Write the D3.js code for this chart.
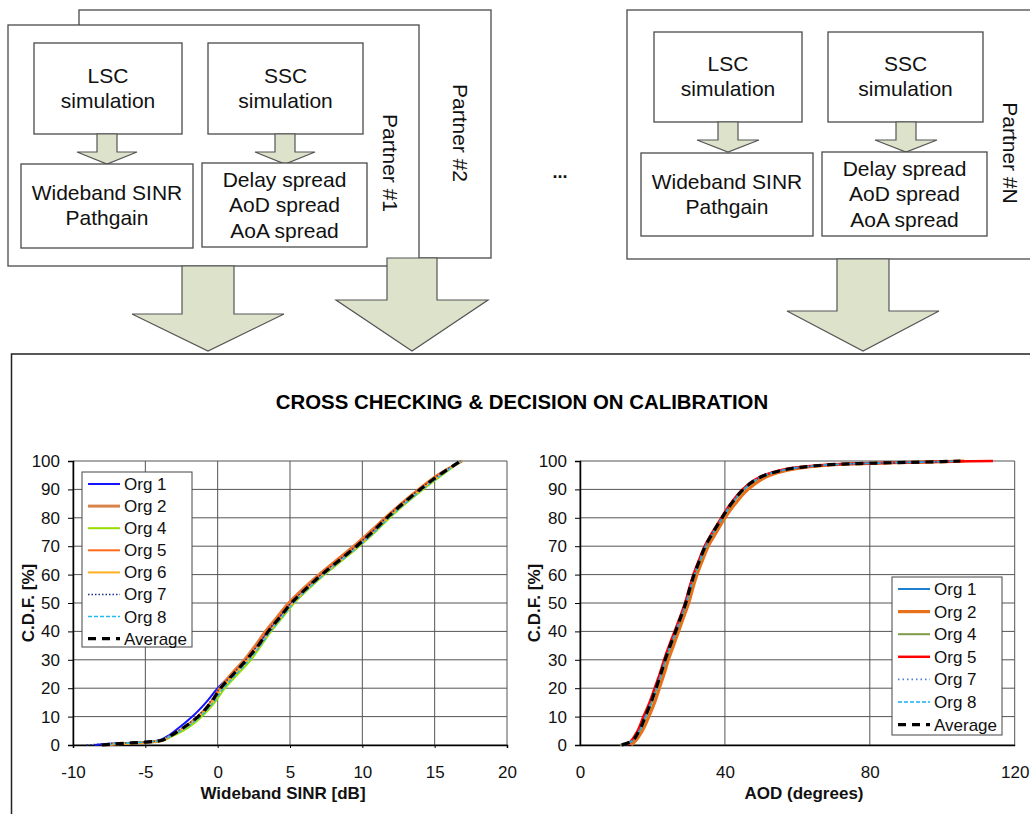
<!DOCTYPE html>
<html>
<head>
<meta charset="utf-8">
<script src="https://cdn.jsdelivr.net/npm/d3@7"></script>
<style>
  html, body { margin: 0; padding: 0; background: #fff; }
  svg { display: block; font-family: "Liberation Sans", Arial, sans-serif; }
</style>
</head>
<body>
<svg id="chart" width="1030" height="814"></svg>
<script>
// ---------------- DATA ----------------
const title = "CROSS CHECKING & DECISION ON CALIBRATION";

// Left chart: Wideband SINR CDF (CDF levels in %, SINR in dB per organisation)
const sinrLevels = [0, 0.5, 1, 1.5, 3, 5, 10, 15, 20, 25, 30, 35, 40, 45, 50, 55, 60, 65, 70, 75, 80, 85, 90, 95, 100];
const sinrOrg1 = [-8.5, -7.2, -5.3, -4.2, -3.5, -2.95, -1.75, -0.8, 0.0, 1.0, 1.9, 2.7, 3.5, 4.3, 5.1, 6.1, 7.2, 8.4, 9.6, 10.7, 11.8, 12.9, 14.0, 15.3, 16.8];
const sinrOrg2 = [-7.8, -6.5, -4.8, -3.9, -3.3, -2.6, -1.3, -0.45, 0.15, 0.95, 1.85, 2.6, 3.3, 4.1, 4.9, 5.9, 7.0, 8.2, 9.4, 10.5, 11.6, 12.7, 13.9, 15.2, 16.9];
const sinrOrg4 = [-8.0, -6.7, -4.9, -3.9, -3.2, -2.4, -1.1, -0.2, 0.5, 1.4, 2.3, 3.0, 3.7, 4.5, 5.3, 6.3, 7.4, 8.6, 9.8, 10.9, 11.9, 13.0, 14.2, 15.5, 16.8];
const sinrOrg5 = [-7.9, -6.6, -5.0, -4.0, -3.3, -2.65, -1.4, -0.5, 0.15, 1.0, 1.9, 2.65, 3.35, 4.15, 4.95, 5.95, 7.05, 8.2, 9.45, 10.55, 11.55, 12.7, 13.9, 15.2, 16.8];
const sinrOrg6 = [-7.9, -6.7, -5.0, -4.0, -3.3, -2.6, -1.3, -0.4, 0.3, 1.2, 2.1, 2.9, 3.6, 4.4, 5.2, 6.2, 7.3, 8.5, 9.7, 10.8, 11.8, 12.9, 14.1, 15.4, 16.8];
const sinrOrg7 = [-9.05, -7.5, -5.2, -4.1, -3.4, -2.75, -1.4, -0.55, 0.15, 1.05, 1.95, 2.75, 3.45, 4.25, 5.05, 6.05, 7.15, 8.35, 9.55, 10.65, 11.65, 12.75, 13.95, 15.25, 16.8];
const sinrOrg8 = [-8.0, -6.8, -5.0, -4.0, -3.3, -2.55, -1.2, -0.3, 0.4, 1.3, 2.2, 2.95, 3.65, 4.45, 5.25, 6.25, 7.35, 8.55, 9.75, 10.85, 11.85, 12.95, 14.15, 15.45, 16.8];
const sinrAvg  = [-8.0, -6.8, -5.0, -4.0, -3.35, -2.7, -1.35, -0.45, 0.2, 1.1, 2.0, 2.8, 3.5, 4.3, 5.1, 6.1, 7.2, 8.4, 9.6, 10.7, 11.7, 12.8, 14.0, 15.3, 16.8];
const sinrTicksX = [-10, -5, 0, 5, 10, 15, 20];

// Right chart: AOD CDF (CDF levels in %, AOD in degrees per organisation)
const aodLevels = [0, 1.3, 5, 10, 15, 20, 25, 30, 35, 40, 45, 50, 55, 60, 65, 70, 75, 80, 85, 90, 93, 95, 96.5, 97.5, 98.2, 98.7, 99.1, 99.5, 99.8, 100];
const aodOrg1 = [12.5, 14.2, 16.2, 17.9, 19.5, 20.9, 22.2, 23.4, 24.8, 26.3, 27.7, 29.1, 30.2, 31.4, 32.9, 34.5, 36.7, 39.1, 41.7, 45.0, 47.9, 50.9, 54.8, 58.8, 63.8, 68.8, 76.8, 89, 100, 104];
const aodOrg2 = [14.1, 15.2, 17.2, 19.0, 20.6, 21.9, 23.2, 24.4, 25.8, 27.2, 28.6, 30.0, 31.1, 32.3, 33.8, 35.4, 37.7, 40.0, 42.9, 46.4, 49.5, 52.5, 56.5, 60.5, 65, 70, 78, 91, 101, 106];
const aodOrg4 = [11.0, 14.3, 16.5, 18.2, 19.8, 21.2, 22.5, 23.7, 25.1, 26.6, 28.0, 29.4, 30.5, 31.7, 33.2, 34.8, 37.0, 39.4, 42.0, 45.3, 48.2, 51.2, 55.2, 59.2, 64.2, 69.2, 77.2, 90, 100, 103];
const aodOrg5 = [13.0, 14.0, 15.9, 17.5, 19.2, 20.6, 22.0, 23.2, 24.6, 26.1, 27.6, 29.0, 30.1, 31.3, 32.8, 34.4, 36.6, 39.0, 41.6, 44.9, 47.8, 50.8, 54.5, 58.5, 63.5, 68.5, 76.5, 90, 102, 114];
const aodOrg7 = [11.8, 14.1, 16.3, 18.0, 19.6, 21.0, 22.3, 23.5, 24.9, 26.4, 27.8, 29.2, 30.3, 31.5, 33.0, 34.6, 36.8, 39.2, 41.8, 45.1, 48.0, 51.0, 55.0, 59.0, 64.0, 69.0, 77.0, 90.0, 100, 104];
const aodOrg8 = [12.0, 14.2, 16.4, 18.1, 19.7, 21.1, 22.4, 23.6, 25.0, 26.5, 27.9, 29.3, 30.4, 31.6, 33.1, 34.7, 36.9, 39.3, 41.9, 45.2, 48.1, 51.1, 55.1, 59.1, 64.1, 69.1, 77.1, 90.0, 101, 105];
const aodAvg  = [11.5, 14.1, 16.3, 18.0, 19.6, 21.0, 22.3, 23.5, 24.9, 26.4, 27.8, 29.2, 30.3, 31.5, 33.0, 34.6, 36.8, 39.2, 41.8, 45.1, 48.0, 51.0, 55.0, 59.0, 64.0, 69.0, 77.0, 90.0, 100, 105];
const aodTicksX = [0, 40, 80, 120];

const cdfTicksY = [0, 10, 20, 30, 40, 50, 60, 70, 80, 90, 100];

// ---------------- STYLES ----------------
const leftSeries = [
  {name: "Org 1", x: sinrOrg1, color: "#1414ff", width: 2, dash: null},
  {name: "Org 2", x: sinrOrg2, color: "#d9834a", width: 3, dash: null},
  {name: "Org 4", x: sinrOrg4, color: "#99dd00", width: 2, dash: null},
  {name: "Org 5", x: sinrOrg5, color: "#ff6a1a", width: 2, dash: null},
  {name: "Org 6", x: sinrOrg6, color: "#ffb020", width: 2, dash: null},
  {name: "Org 7", x: sinrOrg7, color: "#1f2f8f", width: 1.5, dash: "1.5,2"},
  {name: "Org 8", x: sinrOrg8, color: "#22bbee", width: 1.5, dash: "4,2"},
  {name: "Average", x: sinrAvg, color: "#000000", width: 3.2, dash: "8,6"}
];
const rightSeries = [
  {name: "Org 1", x: aodOrg1, color: "#1f7fcf", width: 2, dash: null},
  {name: "Org 2", x: aodOrg2, color: "#e8701a", width: 3.2, dash: null},
  {name: "Org 4", x: aodOrg4, color: "#7f9a48", width: 2, dash: null},
  {name: "Org 5", x: aodOrg5, color: "#ff0000", width: 2.5, dash: null},
  {name: "Org 7", x: aodOrg7, color: "#4f81cd", width: 1.8, dash: "1.5,3"},
  {name: "Org 8", x: aodOrg8, color: "#11b0f0", width: 1.6, dash: "4,2"},
  {name: "Average", x: aodAvg, color: "#000000", width: 3.2, dash: "8,6"}
];

const svg = d3.select("#chart");
svg.append("rect").attr("width", 1030).attr("height", 814).attr("fill", "#fff");

// ---------------- DIAGRAM ----------------
const boxStroke = "#4a4a4a";
const arrowFill = "#dde2cb";
const arrowStroke = "#555";
const diagram = svg.append("g");

function box(x, y, w, h) {
  diagram.append("rect").attr("x", x).attr("y", y).attr("width", w).attr("height", h)
    .attr("fill", "#fff").attr("stroke", boxStroke).attr("stroke-width", 1.3);
}
function arrow(cx, shaftHalf, headHalf, yTop, yShoulder, yTip) {
  const pts = [[cx - shaftHalf, yTop], [cx + shaftHalf, yTop], [cx + shaftHalf, yShoulder], [cx + headHalf, yShoulder],
               [cx, yTip], [cx - headHalf, yShoulder], [cx - shaftHalf, yShoulder]];
  diagram.append("polygon").attr("points", pts.map(p => p.join(",")).join(" "))
    .attr("fill", arrowFill).attr("stroke", arrowStroke).attr("stroke-width", 1.2);
}
function lines(cx, cy, arr, size, weight) {
  const lh = size * 1.2;
  const y0 = cy - (arr.length - 1) * lh / 2;
  arr.forEach((t, i) => {
    diagram.append("text").attr("x", cx).attr("y", y0 + i * lh).attr("dy", "0.35em")
      .attr("text-anchor", "middle").attr("font-size", size).attr("font-weight", weight || "normal")
      .attr("fill", "#111").text(t);
  });
}
function vtext(cx, cy, t) {
  diagram.append("text").attr("transform", `translate(${cx},${cy}) rotate(90)`)
    .attr("text-anchor", "middle").attr("dy", "0.35em").attr("font-size", 21).attr("fill", "#111").text(t);
}

// Partner #2 (behind)
box(79, 10, 412, 248);
vtext(460, 133, "Partner #2");
// Partner #1
box(8, 25, 411, 241);
box(34, 43, 148, 91); lines(108, 88, ["LSC", "simulation"], 21);
box(208, 43, 155, 91); lines(285.5, 88, ["SSC", "simulation"], 21);
arrow(107, 10, 30, 134, 152, 164);
arrow(285, 10, 30, 134, 152, 164);
box(21, 164, 172, 84); lines(107, 205, ["Wideband SINR", "Pathgain"], 21);
box(202, 163, 165, 84); lines(284.5, 205, ["Delay spread", "AoD spread", "AoA spread"], 21);
vtext(390, 163, "Partner #1");

// Partner #N
box(627, 10, 420, 249);
box(654, 32, 148, 90); lines(728, 76, ["LSC", "simulation"], 21);
box(828, 32, 155, 90); lines(905.5, 76, ["SSC", "simulation"], 21);
arrow(728, 10, 31, 122, 140, 152);
arrow(906, 10, 31, 122, 140, 152);
box(641, 153, 172, 83); lines(727, 194, ["Wideband SINR", "Pathgain"], 21);
box(822, 152, 165, 84); lines(904.5, 194, ["Delay spread", "AoD spread", "AoA spread"], 21);
vtext(1010, 153, "Partner #N");

lines(560, 172, ["..."], 18, "bold");

// Big arrows
arrow(208, 26, 76, 266, 314, 351);
arrow(412, 25, 76, 258, 300, 351);
arrow(863, 26, 76, 259, 311, 351);

// Bottom panel
svg.append("path").attr("d", "M11.5,814 V354 H1035").attr("fill", "none")
  .attr("stroke", "#222").attr("stroke-width", 1.5);

svg.append("text").attr("x", 522).attr("y", 402).attr("dy", "0.35em")
  .attr("text-anchor", "middle").attr("font-size", 20.4).attr("font-weight", "bold")
  .attr("fill", "#000").text(title);

// ---------------- CHARTS ----------------
function drawChart(opts) {
  const g = svg.append("g");
  const x = d3.scaleLinear().domain(opts.xDomain).range(opts.xRange);
  const y = d3.scaleLinear().domain([0, 100]).range([745, 461]);

  // grid
  g.append("g").selectAll("line").data(cdfTicksY).join("line")
    .attr("x1", opts.xRange[0]).attr("x2", opts.xRange[1])
    .attr("y1", d => y(d)).attr("y2", d => y(d))
    .attr("stroke", "#555").attr("stroke-width", 1);
  g.append("g").selectAll("line").data(opts.xTicks).join("line")
    .attr("x1", d => x(d)).attr("x2", d => x(d))
    .attr("y1", y(0)).attr("y2", y(100))
    .attr("stroke", "#555").attr("stroke-width", 1);

  // axes
  const fmt = d => String(d);
  const yAxis = d3.axisLeft(y).tickValues(cdfTicksY).tickSize(5).tickPadding(8).tickFormat(fmt);
  const ya = g.append("g").attr("transform", `translate(${opts.xRange[0]},0)`).call(yAxis);
  const xAxis = d3.axisBottom(x).tickValues(opts.xTicks).tickSize(opts.xTickSize).tickPadding(opts.xTickSize ? 18 : 21).tickFormat(fmt);
  const xa = g.append("g").attr("transform", `translate(0,${y(0)})`).call(xAxis);
  [ya, xa].forEach(a => {
    a.select(".domain").attr("stroke", "#000").attr("stroke-width", 1.5);
    a.selectAll(".tick line").attr("stroke", "#000");
    a.selectAll("text").attr("font-size", 17).attr("fill", "#111")
      .attr("font-family", "'Liberation Sans', Arial, sans-serif");
  });

  // axis titles
  g.append("text").attr("x", opts.xTitleX).attr("y", 793).attr("dy", "0.35em")
    .attr("text-anchor", "middle").attr("font-size", 17).attr("font-weight", "bold").attr("fill", "#111")
    .text(opts.xTitle);
  g.append("text").attr("transform", `translate(${opts.yTitleX},603) rotate(-90)`).attr("dy", "0.35em")
    .attr("text-anchor", "middle").attr("font-size", 17).attr("font-weight", "bold").attr("fill", "#111")
    .text("C.D.F. [%]");

  // series
  const line = d3.line().x(d => x(d[0])).y(d => y(d[1])).curve(d3.curveMonotoneY);
  opts.series.forEach(s => {
    const pts = s.x.map((v, i) => [v, opts.levels[i]]);
    g.append("path").attr("d", line(pts)).attr("fill", "none")
      .attr("stroke", s.color).attr("stroke-width", s.width)
      .attr("stroke-dasharray", s.dash).attr("stroke-linejoin", "round");
  });

  // legend
  const L = opts.legend;
  const lg = g.append("g");
  lg.append("rect").attr("x", L.x).attr("y", L.y).attr("width", L.w).attr("height", L.h)
    .attr("fill", "#fff").attr("stroke", "#444").attr("stroke-width", 1);
  opts.series.forEach((s, i) => {
    const yy = L.row0 + i * L.step;
    lg.append("line").attr("x1", L.x + 6).attr("x2", L.x + 38).attr("y1", yy).attr("y2", yy)
      .attr("stroke", s.color).attr("stroke-width", s.width).attr("stroke-dasharray", s.dash);
    lg.append("text").attr("x", L.x + 42).attr("y", yy).attr("dy", "0.35em")
      .attr("font-size", 17).attr("fill", "#111").text(s.name);
  });
}

drawChart({
  xDomain: [-10, 20], xRange: [73, 507], xTicks: sinrTicksX, xTickSize: 3,
  levels: sinrLevels, series: leftSeries,
  xTitle: "Wideband SINR [dB]", xTitleX: 283, yTitleX: 28,
  legend: {x: 82, y: 472, w: 110, h: 175, row0: 484, step: 22.1}
});
drawChart({
  xDomain: [0, 120], xRange: [580, 1014.7], xTicks: aodTicksX, xTickSize: 0,
  levels: aodLevels, series: rightSeries,
  xTitle: "AOD (degrees)", xTitleX: 804, yTitleX: 534,
  legend: {x: 892, y: 577, w: 110, h: 158, row0: 589, step: 22.6}
});
</script>
</body>
</html>
